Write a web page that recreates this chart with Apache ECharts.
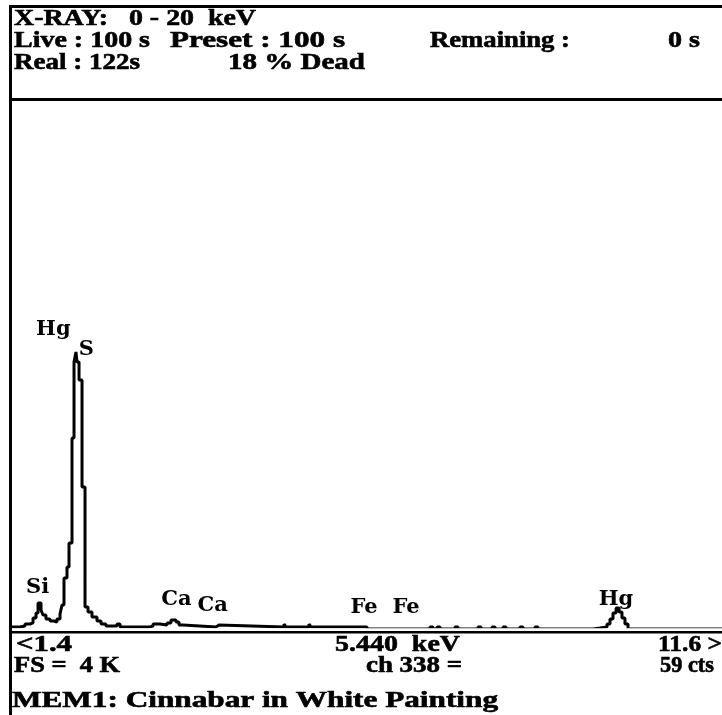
<!DOCTYPE html>
<html>
<head>
<meta charset="utf-8">
<script src="https://cdn.jsdelivr.net/npm/echarts@6/dist/echarts.min.js"></script>
<style>
  html, body { margin: 0; padding: 0; background: #fff; }
  #chart { width: 722px; height: 715px; }
</style>
</head>
<body>
<div id="chart"></div>
<script>
// EDS spectrum, displayed window 1.4 - 11.6 keV, full scale 4K counts
const energyKeV = [
  1.400, 1.515, 1.587, 1.659, 1.702, 1.745, 1.774, 1.817, 1.845, 1.888,
  1.946, 2.003, 2.046, 2.090, 2.118, 2.147, 2.190, 2.219, 2.262, 2.291,
  2.319, 2.334, 2.363, 2.406, 2.449, 2.492, 2.549, 2.621, 2.679, 2.750,
  2.908, 2.952, 3.383, 3.426, 3.526, 3.627, 3.684, 3.756, 3.799, 3.857,
  4.331, 4.374, 5.308, 5.336, 5.667, 5.695, 6.500, 7.405, 7.448, 7.506,
  7.549, 7.764, 7.807, 8.095, 8.138, 8.296, 8.339, 8.454, 8.497, 8.698,
  8.741, 8.913, 8.956, 9.747, 9.848, 9.948, 9.991, 10.034, 10.078, 10.121,
  10.163, 10.206, 10.250, 11.600
];
const countsPerChannel = [
  16, 23, 39, 47, 85, 124, 202, 147, 109, 78,
  62, 54, 78, 116, 186, 396, 481, 667, 1482, 2071,
  2149, 2071, 1932, 1102, 171, 132, 93, 62, 39, 23,
  39, 16, 23, 39, 31, 47, 70, 54, 31, 16,
  31, 16, 39, 16, 39, 16, 0, 16, 0, 16,
  0, 16, 0, 16, 0, 16, 0, 16, 0, 16,
  0, 16, 0, 8, 16, 39, 78, 124, 163, 132,
  85, 39, 0, 0
];

// Element line markers (keV)
const lineNames = ['Hg', 'S', 'Si', 'Ca', 'Ca', 'Fe', 'Fe', 'Hg'];
const lineEnergies = [2.195, 2.31, 1.74, 3.69, 4.01, 6.40, 7.06, 9.99];

// Display window and full scale
const windowKeV = [1.4, 11.6];
const fullScale = 4096;

// Header / status texts: [text, left, right]
const headerRows = [
  [['X-RAY:   0 - 20  keV', 14, 256]],
  [['Live : 100 s', 14, 150], ['Preset : 100 s', 170, 345], ['Remaining :', 430, 570], ['0 s', 668, 700]],
  [['Real : 122s', 14, 140], ['18 % Dead', 228, 365]]
];
const footerRows = [
  [['<1.4', 16, 72], ['5.440  keV', 335, 460], ['11.6 >', 658, 722]],
  [['FS =  4 K', 14, 120], ['ch 338 =', 366, 462], ['59 cts', 660, 714]],
  [['MEM1: Cinnabar in White Painting', 12, 498]]
];

// Pixel offsets of each element label from its line position at the baseline
const labelOffsets = [[-14, -299], [11, -279], [2, -41], [5, -29], [19, -23], [4, -21], [0, -21], [6, -29]];

const LABEL_FONT = 'DejaVu Serif';
const TEXT_FONT = 'bold 23px "Liberation Serif"';
const headerY = [19, 41, 63];
const footerY = [645, 666, 701];

const measureCtx = document.createElement('canvas').getContext('2d');
measureCtx.font = TEXT_FONT;

// Each status string is stretched horizontally to fill its span
function textRows(rows, ys) {
  const out = [];
  rows.forEach((row, i) => {
    row.forEach(([t, x0, x1]) => {
      const w = measureCtx.measureText(t).width;
      out.push({
        type: 'text', x: x0, y: ys[i], z: 10,
        scaleX: (x1 - x0) / w,
        style: {
          text: t, fill: '#000', font: TEXT_FONT, textVerticalAlign: 'middle',
          stroke: '#000', lineWidth: 0.6
        }
      });
    });
  });
  return out;
}

const frame = [
  { type: 'rect', shape: { x: 9, y: 5, width: 713, height: 3 } },
  { type: 'rect', shape: { x: 9, y: 5, width: 3, height: 710 } },
  { type: 'rect', shape: { x: 9, y: 98, width: 713, height: 3 } },
  { type: 'rect', shape: { x: 9, y: 631, width: 713, height: 2.5 } }
].map(r => Object.assign(r, { style: { fill: '#000' }, z: 10 }));

const chart = echarts.init(document.getElementById('chart'), null, { renderer: 'canvas' });
chart.setOption({
  animation: false,
  backgroundColor: '#fff',
  grid: { left: 12, right: 0, top: 101, bottom: 86 },
  xAxis: { type: 'value', min: windowKeV[0], max: windowKeV[1], show: false },
  yAxis: { type: 'value', min: 0, max: fullScale, show: false },
  visualMap: {
    type: 'piecewise', show: false, dimension: 1, seriesIndex: 0,
    pieces: [
      { gte: 0, lt: 5, color: '#c4c4c4' },
      { gte: 5, lte: fullScale, color: '#000' }
    ]
  },
  series: [
    {
      type: 'line', step: 'end', symbol: 'none',
      lineStyle: { width: 3 },
      data: energyKeV.map((e, i) => [e, countsPerChannel[i]])
    },
    {
      type: 'scatter', symbolSize: 0, silent: true,
      itemStyle: { opacity: 1, color: '#000' },
      data: lineEnergies.map((e, i) => ({
        value: [e, 0], name: lineNames[i],
        label: { offset: labelOffsets[i] }
      })),
      label: {
        show: true, position: 'inside', formatter: '{b}',
        color: '#000', fontFamily: LABEL_FONT, fontWeight: 'bold', fontSize: 21
      }
    }
  ],
  graphic: frame.concat(textRows(headerRows, headerY), textRows(footerRows, footerY))
});
</script>
</body>
</html>
